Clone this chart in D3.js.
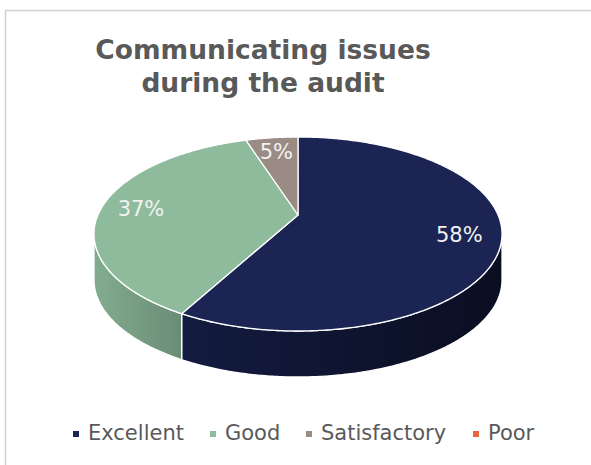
<!DOCTYPE html>
<html>
<head>
<meta charset="utf-8">
<script src="https://cdn.jsdelivr.net/npm/d3@7"></script>
<style>
  html, body { margin: 0; padding: 0; background: #ffffff; }
  svg { display: block; }
</style>
</head>
<body>
<svg id="chart" width="591" height="465"></svg>
<script>
// Survey ratings
const categories = ["Excellent", "Good", "Satisfactory", "Poor"];
const values = [58, 37, 5, 0];
const topColors = ["#1b2452", "#8fbb9d", "#9a8c84", "#e8663d"];
const sideLight = ["#131b40", "#82ac8f", "#8a7d76", "#d05a35"];
const sideDark = ["#0a0e21", "#6a8c75", "#6f655f", "#a8472a"];
const titleLines = ["Communicating issues", "during the audit"];

const W = 591, H = 465;
const svg = d3.select("#chart");

// chart frame
svg.append("rect")
  .attr("x", 5.5).attr("y", 10.5)
  .attr("width", 700).attr("height", 600)
  .attr("fill", "#ffffff")
  .attr("stroke", "#d0d0d0")
  .attr("stroke-width", 1.5);

// title
svg.append("text")
  .attr("x", 263).attr("y", 59)
  .attr("text-anchor", "middle")
  .attr("font-family", "DejaVu Sans, Verdana, sans-serif")
  .attr("font-weight", "bold")
  .attr("font-size", 26.5)
  .attr("fill", "#595959")
  .selectAll("tspan")
  .data(titleLines)
  .join("tspan")
  .attr("x", 263)
  .attr("dy", (d, i) => i === 0 ? 0 : 33)
  .text(d => d);

// perspective view of a tilted disc
const cx = 298, cy = 215;       // projected centre of the disc
const A = 1021.7, B = 476.4;    // horizontal / vertical projection scale
const dist = 5.107;             // camera distance in disc radii
const depth = 46;               // thickness of the pie

// angle measured clockwise from 12 o'clock, r in disc radii
function project(theta, r, dz) {
  const u = r * Math.sin(theta);
  const v = -r * Math.cos(theta);
  return [cx + A * u / (dist - v), cy + B * v / (dist - v) + (dz || 0)];
}

const pie = d3.pie().sort(null).value(d => d)(values);
const color = d3.scaleOrdinal().domain(categories).range(topColors);

// visible rim spans from the right silhouette to the left silhouette
const thetaR = Math.acos(-1 / dist);
const thetaL = 2 * Math.PI - thetaR;

function arcPoints(a0, a1, dz) {
  const n = Math.max(2, Math.ceil((a1 - a0) / 0.01));
  return d3.range(n + 1).map(i => project(a0 + (a1 - a0) * i / n, 1, dz));
}

const defs = svg.append("defs");
const line = d3.line();

// side walls
const walls = svg.append("g");
pie.forEach((p, i) => {
  const a0 = Math.max(p.startAngle, thetaR);
  const a1 = Math.min(p.endAngle, thetaL);
  if (p.value <= 0 || a1 <= a0) return;
  const top = arcPoints(a0, a1, 0);
  const bottom = arcPoints(a0, a1, depth).reverse();
  const xs = top.map(d => d[0]);
  const gid = "side" + i;
  const g = defs.append("linearGradient").attr("id", gid)
    .attr("gradientUnits", "userSpaceOnUse")
    .attr("x1", d3.min(xs)).attr("x2", d3.max(xs))
    .attr("y1", 0).attr("y2", 0);
  // light falls from the left
  g.append("stop").attr("offset", 0).attr("stop-color", sideLight[i]);
  g.append("stop").attr("offset", 1).attr("stop-color", sideDark[i]);
  walls.append("path")
    .attr("d", line(top.concat(bottom)) + "Z")
    .attr("fill", `url(#${gid})`)
    .attr("stroke", "#ffffff")
    .attr("stroke-width", 1.3)
    .attr("stroke-linejoin", "round");
});

// top faces
const tops = svg.append("g");
pie.forEach((p, i) => {
  if (p.value <= 0) return;
  const pts = [[cx, cy]].concat(arcPoints(p.startAngle, p.endAngle, 0));
  tops.append("path")
    .attr("d", line(pts) + "Z")
    .attr("fill", color(categories[i]))
    .attr("stroke", "#ffffff")
    .attr("stroke-width", 1.3)
    .attr("stroke-linejoin", "round");
});

// percentage labels
svg.append("g").selectAll("text")
  .data(pie.filter(p => p.value > 0))
  .join("text")
  .each(function (p) {
    const [x, y] = project((p.startAngle + p.endAngle) / 2, 0.8, 0);
    d3.select(this).attr("x", x).attr("y", y);
  })
  .attr("dy", "0.36em")
  .attr("text-anchor", "middle")
  .attr("font-family", "DejaVu Sans, Verdana, sans-serif")
  .attr("font-size", 21)
  .attr("fill", "#f2f2f2")
  .text(p => d3.format(".0%")(p.value / d3.sum(values)));

// legend
const legendX = [73, 210, 306, 473];
const legend = svg.append("g").selectAll("g")
  .data(categories)
  .join("g")
  .attr("transform", (d, i) => `translate(${legendX[i]},440)`);
legend.append("rect")
  .attr("x", 0).attr("y", -9)
  .attr("width", 6).attr("height", 6)
  .attr("fill", d => color(d));
legend.append("text")
  .attr("x", 15).attr("y", 0)
  .attr("font-family", "DejaVu Sans, Verdana, sans-serif")
  .attr("font-size", 21)
  .attr("fill", "#595959")
  .text(d => d);
</script>
</body>
</html>
